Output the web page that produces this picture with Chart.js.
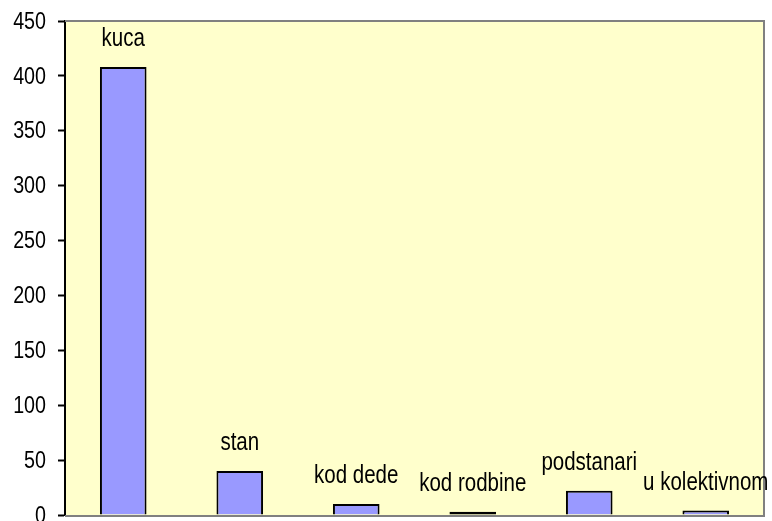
<!DOCTYPE html>
<html>
<head>
<meta charset="utf-8">
<script src="https://cdn.jsdelivr.net/npm/chart.js@4/dist/chart.umd.min.js"></script>
<style>
  html, body { margin: 0; padding: 0; background: #fff; }
  canvas { display: block; }
</style>
</head>
<body>
<canvas id="chart" width="772" height="521"></canvas>
<script>
const categories = ['kuca', 'stan', 'kod dede', 'kod rodbine', 'podstanari', 'u kolektivnom'];
const counts = [408, 40, 10, 3, 22, 4];
const yTicks = [0, 50, 100, 150, 200, 250, 300, 350, 400, 450];

const FONT = '"Liberation Sans", Arial, sans-serif';
const SQUEEZE = 0.82; // narrow look, no Arial Narrow installed

function narrowText(ctx, text, x, y, align) {
  ctx.save();
  ctx.translate(x, y);
  ctx.scale(SQUEEZE, 1);
  ctx.textAlign = align;
  ctx.fillText(text, 0, 0);
  ctx.restore();
}

// yellow plot background, gray frame top/right/bottom
const plotFrame = {
  id: 'plotFrame',
  beforeDraw(chart) {
    const { ctx, chartArea: a } = chart;
    ctx.save();
    ctx.fillStyle = '#FFFFCC';
    ctx.fillRect(a.left, a.top, a.right - a.left, a.bottom - a.top);
    ctx.restore();
  },
  afterDatasetsDraw(chart) {
    const { ctx, chartArea: a } = chart;
    ctx.save();
    ctx.strokeStyle = '#808080';
    ctx.lineWidth = 2;
    ctx.beginPath();
    ctx.moveTo(a.left, a.top);
    ctx.lineTo(a.right, a.top);
    ctx.lineTo(a.right, a.bottom + 1);
    ctx.lineTo(a.left, a.bottom + 1);
    ctx.stroke();
    ctx.restore();
  }
};

// y tick labels + category names above bars
const textLayer = {
  id: 'textLayer',
  afterDraw(chart) {
    const ctx = chart.ctx;
    const y = chart.scales.y;
    ctx.save();
    ctx.fillStyle = '#000';
    ctx.textBaseline = 'middle';
    ctx.font = '24px ' + FONT;
    yTicks.forEach(v => narrowText(ctx, String(v), 46, y.getPixelForValue(v) + 1, 'right'));

    ctx.textBaseline = 'alphabetic';
    ctx.font = '25px ' + FONT;
    chart.getDatasetMeta(0).data.forEach((bar, i) => {
      narrowText(ctx, categories[i], bar.x, bar.y - 21, 'center');
    });
    ctx.restore();
  }
};

new Chart(document.getElementById('chart'), {
  type: 'bar',
  data: {
    labels: categories,
    datasets: [{
      data: counts,
      backgroundColor: '#9999FF',
      borderColor: '#000',
      borderWidth: 2,
      // tiny bar reads as a solid black stroke in the original
      borderSkipped: (c) => (c.raw < 4 ? false : 'start'),
      barPercentage: 0.4,
      categoryPercentage: 1
    }]
  },
  options: {
    responsive: false,
    animation: false,
    layout: { padding: { top: 21, right: 8, bottom: 6, left: 0 } },
    plugins: {
      legend: { display: false },
      tooltip: { enabled: false }
    },
    scales: {
      x: { display: false },
      y: {
        min: 0,
        max: 450,
        afterBuildTicks(scale) { scale.ticks = yTicks.map(v => ({ value: v })); },
        ticks: { display: false },
        grid: { drawOnChartArea: false, drawTicks: true, tickLength: 7, color: '#000', tickWidth: 2 },
        border: { display: true, color: '#000', width: 2 },
        afterFit(scale) { scale.width = 65; }
      }
    }
  },
  plugins: [plotFrame, textLayer]
});
</script>
</body>
</html>
